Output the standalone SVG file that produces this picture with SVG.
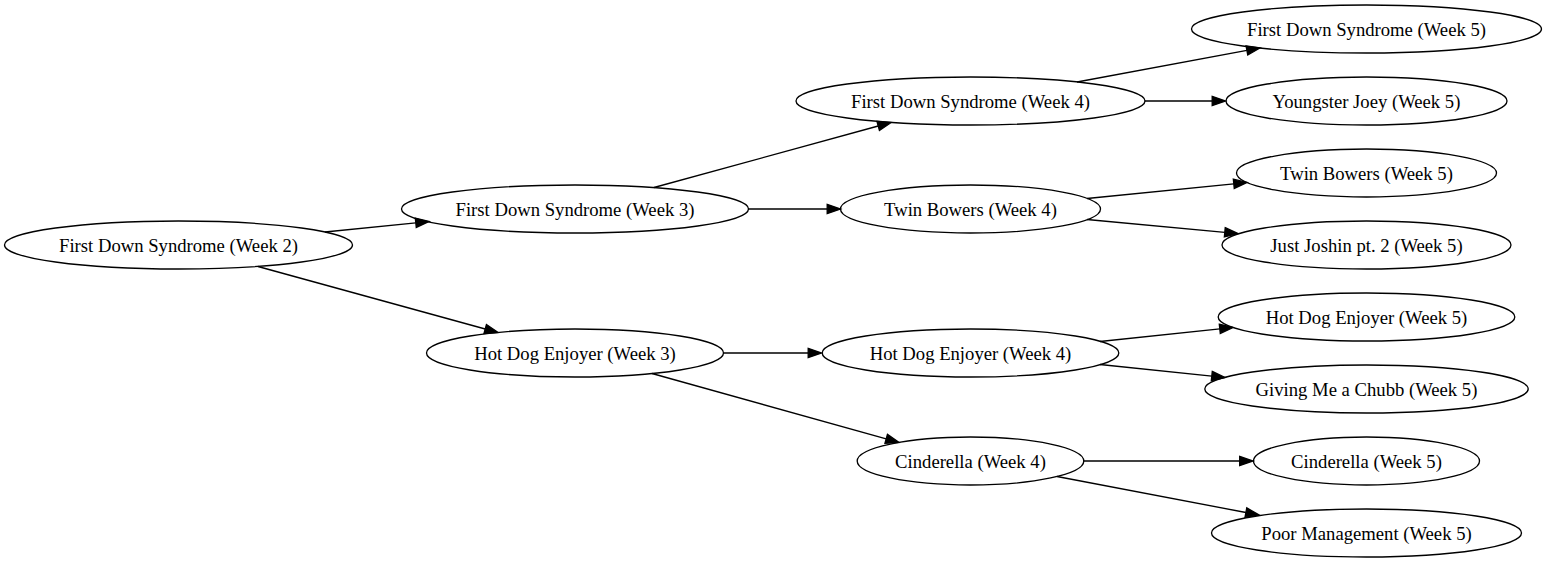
<svg xmlns="http://www.w3.org/2000/svg" width="1546" height="563" viewBox="0 0 1546 563">
<style>
.node ellipse{fill:none;stroke:#000;stroke-width:1.33}
.node text{font-family:"Liberation Serif","Times New Roman",serif;font-size:18.67px;text-anchor:middle;fill:#000}
.edges path{fill:none;stroke:#000;stroke-width:1.33;marker-end:url(#arr)}
</style>
<defs>
<marker id="arr" markerUnits="userSpaceOnUse" markerWidth="16" markerHeight="12" refX="0" refY="0" viewBox="-1 -6 16 12" orient="auto" overflow="visible">
<path d="M0,-4.67 L13.33,0 L0,4.67 Z" fill="#000" stroke="#000" stroke-width="1.33"/>
</marker>
</defs>
<rect width="1546" height="563" fill="#fff"/>
<g class="edges">
<path d="M325,232 L415.8,222.8"/>
<path d="M258,266.5 L485.2,329"/>
<path d="M654,187.5 L878.2,126"/>
<path d="M748,209 L827.2,209"/>
<path d="M724,353 L808.2,353"/>
<path d="M652,373.5 L886.2,438.9"/>
<path d="M1077,82 L1246.9,50.4"/>
<path d="M1145,101 L1212.2,101"/>
<path d="M1087,198.5 L1233.8,183.8"/>
<path d="M1087,219.5 L1224.8,232.3"/>
<path d="M1100,341.5 L1219.8,328.9"/>
<path d="M1100,364.5 L1211.8,376.1"/>
<path d="M1083.5,461 L1239.7,461"/>
<path d="M1057,476.5 L1245.9,512.5"/>
</g>
<g id="n_fds2" class="node"><ellipse cx="178.5" cy="245" rx="174" ry="24"/><text x="178.5" y="252">First Down Syndrome (Week 2)</text></g>
<g id="n_fds3" class="node"><ellipse cx="575" cy="209" rx="173.5" ry="24"/><text x="575" y="216">First Down Syndrome (Week 3)</text></g>
<g id="n_hde3" class="node"><ellipse cx="575" cy="353" rx="148.5" ry="24"/><text x="575" y="360">Hot Dog Enjoyer (Week 3)</text></g>
<g id="n_fds4" class="node"><ellipse cx="970.5" cy="101" rx="174.5" ry="24"/><text x="970.5" y="108">First Down Syndrome (Week 4)</text></g>
<g id="n_tb4" class="node"><ellipse cx="970.5" cy="209" rx="130" ry="24"/><text x="970.5" y="216">Twin Bowers (Week 4)</text></g>
<g id="n_hde4" class="node"><ellipse cx="970.5" cy="353" rx="148.3" ry="24"/><text x="970.5" y="360">Hot Dog Enjoyer (Week 4)</text></g>
<g id="n_cin4" class="node"><ellipse cx="970.5" cy="461" rx="113.3" ry="24"/><text x="970.5" y="468">Cinderella (Week 4)</text></g>
<g id="n_fds5" class="node"><ellipse cx="1366.5" cy="29" rx="175" ry="24"/><text x="1366.5" y="36">First Down Syndrome (Week 5)</text></g>
<g id="n_yj5" class="node"><ellipse cx="1366.5" cy="101" rx="140.5" ry="24"/><text x="1366.5" y="108">Youngster Joey (Week 5)</text></g>
<g id="n_tb5" class="node"><ellipse cx="1366.5" cy="173" rx="130" ry="24"/><text x="1366.5" y="180">Twin Bowers (Week 5)</text></g>
<g id="n_jj5" class="node"><ellipse cx="1366.5" cy="245" rx="144.5" ry="24"/><text x="1366.5" y="252">Just Joshin pt. 2 (Week 5)</text></g>
<g id="n_hde5" class="node"><ellipse cx="1366.5" cy="317" rx="148.3" ry="24"/><text x="1366.5" y="324">Hot Dog Enjoyer (Week 5)</text></g>
<g id="n_gm5" class="node"><ellipse cx="1366.5" cy="389" rx="161.7" ry="24"/><text x="1366.5" y="396">Giving Me a Chubb (Week 5)</text></g>
<g id="n_cin5" class="node"><ellipse cx="1366.5" cy="461" rx="113" ry="24"/><text x="1366.5" y="468">Cinderella (Week 5)</text></g>
<g id="n_pm5" class="node"><ellipse cx="1366.5" cy="533" rx="155" ry="24"/><text x="1366.5" y="540">Poor Management (Week 5)</text></g>
</svg>
